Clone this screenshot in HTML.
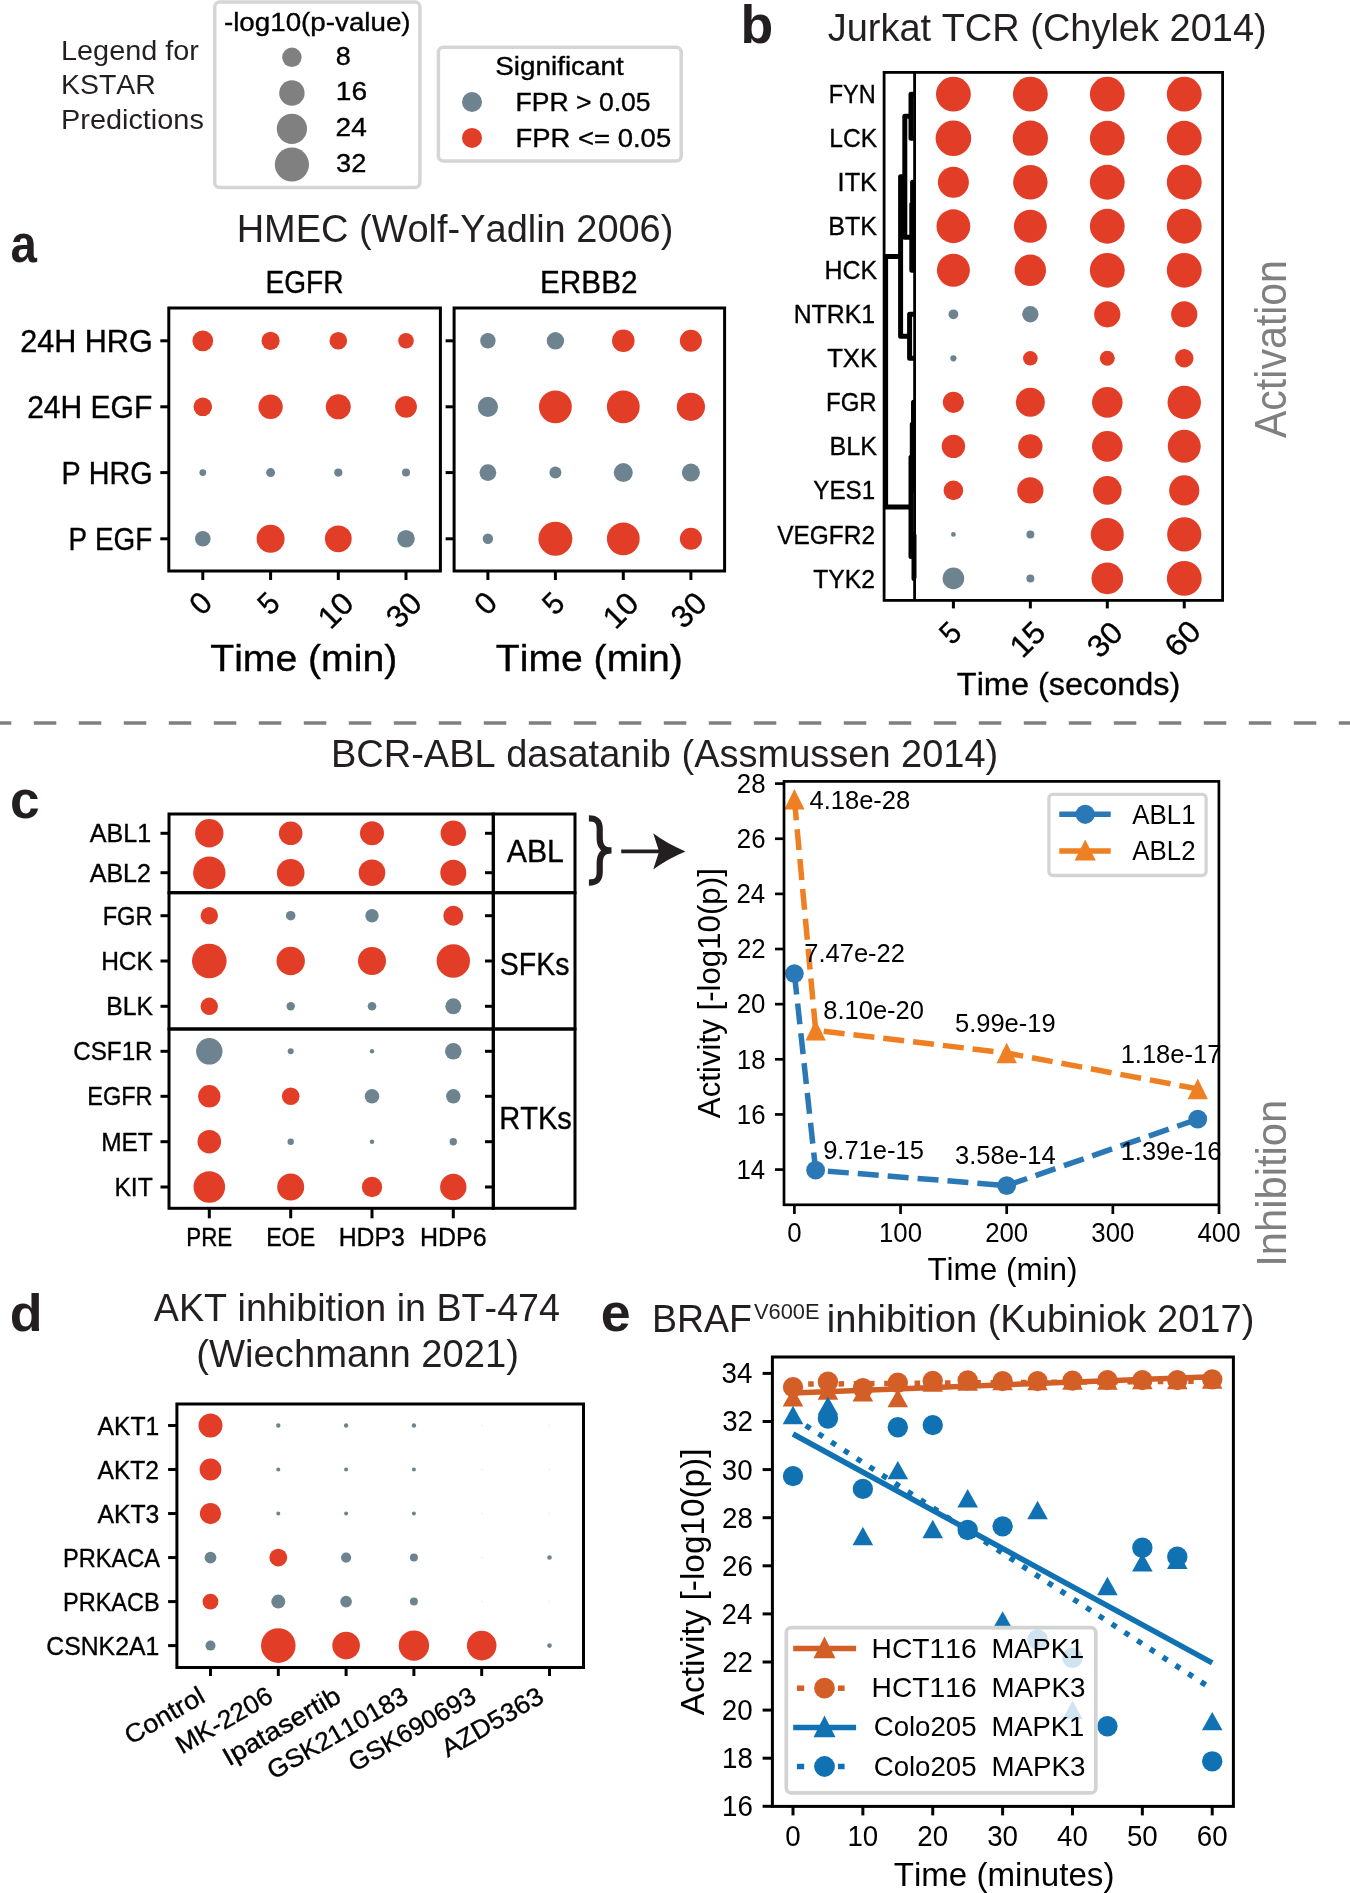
<!DOCTYPE html>
<html><head><meta charset="utf-8"><title>KSTAR figure</title><style>html,body{margin:0;padding:0;background:#fff;}svg{display:block;will-change:transform;}text{font-kerning:none;}.dv{stroke:#000;stroke-width:0.35px;}</style></head><body>
<svg width="1350" height="1893" viewBox="0 0 1350 1893" font-family="'Liberation Sans', sans-serif">
<rect x="0" y="0" width="1350" height="1893" fill="#fff"/>
<text x="61.03" y="60.00" font-size="28.49" textLength="137.95" lengthAdjust="spacingAndGlyphs" fill="#231f20">Legend for</text>
<text x="61.07" y="94.40" font-size="28.49" textLength="94.75" lengthAdjust="spacingAndGlyphs" fill="#231f20">KSTAR</text>
<text x="61.03" y="128.80" font-size="28.49" textLength="142.81" lengthAdjust="spacingAndGlyphs" fill="#231f20">Predictions</text>
<rect x="214.70" y="2.00" width="205.20" height="185.50" stroke="#d5d5d5" stroke-width="3.5" fill="#fff" rx="5" />
<text x="223.97" y="30.60" font-size="25.50" textLength="186.65" lengthAdjust="spacingAndGlyphs" class="dv">-log10(p-value)</text>
<circle cx="291.90" cy="57.30" r="9.70" fill="#808080"/>
<circle cx="291.90" cy="93.00" r="12.70" fill="#808080"/>
<circle cx="291.90" cy="128.80" r="15.10" fill="#808080"/>
<circle cx="291.90" cy="164.50" r="17.10" fill="#808080"/>
<text x="335.72" y="64.80" font-size="26.12" textLength="15.03" lengthAdjust="spacingAndGlyphs" class="dv">8</text>
<text x="335.81" y="100.30" font-size="26.12" textLength="31.26" lengthAdjust="spacingAndGlyphs" class="dv">16</text>
<text x="335.61" y="136.00" font-size="26.12" textLength="31.22" lengthAdjust="spacingAndGlyphs" class="dv">24</text>
<text x="336.07" y="171.70" font-size="26.12" textLength="30.20" lengthAdjust="spacingAndGlyphs" class="dv">32</text>
<rect x="438.40" y="47.30" width="242.80" height="113.70" stroke="#d5d5d5" stroke-width="3.5" fill="#fff" rx="5" />
<text x="495.23" y="75.20" font-size="26.00" textLength="128.57" lengthAdjust="spacingAndGlyphs" class="dv">Significant</text>
<text x="515.62" y="111.10" font-size="25.40" textLength="134.99" lengthAdjust="spacingAndGlyphs" class="dv">FPR &gt; 0.05</text>
<text x="515.55" y="146.70" font-size="25.40" textLength="155.60" lengthAdjust="spacingAndGlyphs" class="dv">FPR &lt;= 0.05</text>
<circle cx="472.00" cy="102.00" r="10.00" fill="#6d8390"/>
<circle cx="472.00" cy="137.90" r="10.00" fill="#e13d27"/>
<text x="10.61" y="261.50" font-size="52.70" textLength="26.39" lengthAdjust="spacingAndGlyphs" fill="#231f20" font-weight="bold">a</text>
<text x="236.69" y="242.00" font-size="39.20" textLength="436.67" lengthAdjust="spacingAndGlyphs" fill="#231f20">HMEC (Wolf-Yadlin 2006)</text>
<rect x="168.80" y="308.00" width="271.60" height="263.00" stroke="#000" stroke-width="3" fill="none" rx="0" />
<line x1="160.30" y1="340.80" x2="168.80" y2="340.80" stroke="#000" stroke-width="3" />
<circle cx="202.80" cy="340.80" r="10.40" fill="#e13d27"/>
<circle cx="270.60" cy="340.80" r="9.10" fill="#e13d27"/>
<circle cx="338.30" cy="340.80" r="8.80" fill="#e13d27"/>
<circle cx="406.00" cy="340.80" r="7.80" fill="#e13d27"/>
<line x1="160.30" y1="406.80" x2="168.80" y2="406.80" stroke="#000" stroke-width="3" />
<circle cx="202.80" cy="406.80" r="9.30" fill="#e13d27"/>
<circle cx="270.60" cy="406.80" r="12.20" fill="#e13d27"/>
<circle cx="338.30" cy="406.80" r="12.50" fill="#e13d27"/>
<circle cx="406.00" cy="406.80" r="10.90" fill="#e13d27"/>
<line x1="160.30" y1="472.60" x2="168.80" y2="472.60" stroke="#000" stroke-width="3" />
<circle cx="202.80" cy="472.60" r="3.40" fill="#6d8390"/>
<circle cx="270.60" cy="472.60" r="4.50" fill="#6d8390"/>
<circle cx="338.30" cy="472.60" r="4.10" fill="#6d8390"/>
<circle cx="406.00" cy="472.60" r="4.00" fill="#6d8390"/>
<line x1="160.30" y1="538.80" x2="168.80" y2="538.80" stroke="#000" stroke-width="3" />
<circle cx="202.80" cy="538.80" r="7.80" fill="#6d8390"/>
<circle cx="270.60" cy="538.80" r="14.00" fill="#e13d27"/>
<circle cx="338.30" cy="538.80" r="13.40" fill="#e13d27"/>
<circle cx="406.00" cy="538.80" r="8.80" fill="#6d8390"/>
<line x1="202.80" y1="571.00" x2="202.80" y2="580.00" stroke="#000" stroke-width="3" />
<g transform="translate(200.50,603.30) rotate(-45)"><text x="-8.56" y="10.64" font-size="30.95" textLength="17.12" lengthAdjust="spacingAndGlyphs" class="dv">0</text></g>
<line x1="270.60" y1="571.00" x2="270.60" y2="580.00" stroke="#000" stroke-width="3" />
<g transform="translate(268.30,603.30) rotate(-45)"><text x="-8.05" y="10.64" font-size="30.95" textLength="16.16" lengthAdjust="spacingAndGlyphs" class="dv">5</text></g>
<line x1="338.30" y1="571.00" x2="338.30" y2="580.00" stroke="#000" stroke-width="3" />
<g transform="translate(336.00,609.87) rotate(-45)"><text x="-18.45" y="10.64" font-size="30.95" textLength="35.71" lengthAdjust="spacingAndGlyphs" class="dv">10</text></g>
<line x1="406.00" y1="571.00" x2="406.00" y2="580.00" stroke="#000" stroke-width="3" />
<g transform="translate(403.70,609.87) rotate(-45)"><text x="-17.71" y="10.64" font-size="30.95" textLength="35.45" lengthAdjust="spacingAndGlyphs" class="dv">30</text></g>
<rect x="454.10" y="308.00" width="270.50" height="263.00" stroke="#000" stroke-width="3" fill="none" rx="0" />
<line x1="445.60" y1="340.80" x2="454.10" y2="340.80" stroke="#000" stroke-width="3" />
<circle cx="487.90" cy="340.80" r="7.70" fill="#6d8390"/>
<circle cx="555.40" cy="340.80" r="8.70" fill="#6d8390"/>
<circle cx="623.30" cy="340.80" r="11.30" fill="#e13d27"/>
<circle cx="690.90" cy="340.80" r="11.00" fill="#e13d27"/>
<line x1="445.60" y1="406.80" x2="454.10" y2="406.80" stroke="#000" stroke-width="3" />
<circle cx="487.90" cy="406.80" r="10.10" fill="#6d8390"/>
<circle cx="555.40" cy="406.80" r="16.40" fill="#e13d27"/>
<circle cx="623.30" cy="406.80" r="16.40" fill="#e13d27"/>
<circle cx="690.90" cy="406.80" r="14.10" fill="#e13d27"/>
<line x1="445.60" y1="472.60" x2="454.10" y2="472.60" stroke="#000" stroke-width="3" />
<circle cx="487.90" cy="472.60" r="8.40" fill="#6d8390"/>
<circle cx="555.40" cy="472.60" r="6.00" fill="#6d8390"/>
<circle cx="623.30" cy="472.60" r="9.50" fill="#6d8390"/>
<circle cx="690.90" cy="472.60" r="9.00" fill="#6d8390"/>
<line x1="445.60" y1="538.80" x2="454.10" y2="538.80" stroke="#000" stroke-width="3" />
<circle cx="487.90" cy="538.80" r="5.20" fill="#6d8390"/>
<circle cx="555.40" cy="538.80" r="17.00" fill="#e13d27"/>
<circle cx="623.30" cy="538.80" r="16.40" fill="#e13d27"/>
<circle cx="690.90" cy="538.80" r="11.00" fill="#e13d27"/>
<line x1="487.90" y1="571.00" x2="487.90" y2="580.00" stroke="#000" stroke-width="3" />
<g transform="translate(485.60,603.30) rotate(-45)"><text x="-8.56" y="10.64" font-size="30.95" textLength="17.12" lengthAdjust="spacingAndGlyphs" class="dv">0</text></g>
<line x1="555.40" y1="571.00" x2="555.40" y2="580.00" stroke="#000" stroke-width="3" />
<g transform="translate(553.10,603.30) rotate(-45)"><text x="-8.05" y="10.64" font-size="30.95" textLength="16.16" lengthAdjust="spacingAndGlyphs" class="dv">5</text></g>
<line x1="623.30" y1="571.00" x2="623.30" y2="580.00" stroke="#000" stroke-width="3" />
<g transform="translate(621.00,609.87) rotate(-45)"><text x="-18.45" y="10.64" font-size="30.95" textLength="35.71" lengthAdjust="spacingAndGlyphs" class="dv">10</text></g>
<line x1="690.90" y1="571.00" x2="690.90" y2="580.00" stroke="#000" stroke-width="3" />
<g transform="translate(688.60,609.87) rotate(-45)"><text x="-17.71" y="10.64" font-size="30.95" textLength="35.45" lengthAdjust="spacingAndGlyphs" class="dv">30</text></g>
<text x="265.50" y="293.00" font-size="30.95" textLength="78.01" lengthAdjust="spacingAndGlyphs" class="dv">EGFR</text>
<text x="540.06" y="293.00" font-size="30.95" textLength="97.43" lengthAdjust="spacingAndGlyphs" class="dv">ERBB2</text>
<text x="20.13" y="352.10" font-size="30.95" textLength="132.56" lengthAdjust="spacingAndGlyphs" class="dv">24H HRG</text>
<text x="27.16" y="418.10" font-size="30.95" textLength="125.14" lengthAdjust="spacingAndGlyphs" class="dv">24H EGF</text>
<text x="61.54" y="483.90" font-size="30.95" textLength="91.01" lengthAdjust="spacingAndGlyphs" class="dv">P HRG</text>
<text x="68.61" y="550.10" font-size="30.95" textLength="83.60" lengthAdjust="spacingAndGlyphs" class="dv">P EGF</text>
<text x="210.22" y="670.70" font-size="36.25" textLength="187.01" lengthAdjust="spacingAndGlyphs" class="dv">Time (min)</text>
<text x="495.82" y="670.70" font-size="36.25" textLength="186.90" lengthAdjust="spacingAndGlyphs" class="dv">Time (min)</text>
<text x="740.57" y="43.00" font-size="52.80" textLength="32.73" lengthAdjust="spacingAndGlyphs" fill="#231f20" font-weight="bold">b</text>
<text x="827.71" y="40.80" font-size="39.20" textLength="438.95" lengthAdjust="spacingAndGlyphs" fill="#231f20">Jurkat TCR (Chylek 2014)</text>
<circle cx="953.40" cy="94.20" r="17.40" fill="#e13d27"/>
<circle cx="1030.35" cy="94.20" r="17.40" fill="#e13d27"/>
<circle cx="1107.30" cy="94.20" r="17.40" fill="#e13d27"/>
<circle cx="1184.25" cy="94.20" r="17.40" fill="#e13d27"/>
<circle cx="953.40" cy="138.22" r="17.80" fill="#e13d27"/>
<circle cx="1030.35" cy="138.22" r="17.60" fill="#e13d27"/>
<circle cx="1107.30" cy="138.22" r="17.40" fill="#e13d27"/>
<circle cx="1184.25" cy="138.22" r="17.40" fill="#e13d27"/>
<circle cx="953.40" cy="182.24" r="15.50" fill="#e13d27"/>
<circle cx="1030.35" cy="182.24" r="17.20" fill="#e13d27"/>
<circle cx="1107.30" cy="182.24" r="17.40" fill="#e13d27"/>
<circle cx="1184.25" cy="182.24" r="17.40" fill="#e13d27"/>
<circle cx="953.40" cy="226.26" r="16.90" fill="#e13d27"/>
<circle cx="1030.35" cy="226.26" r="16.50" fill="#e13d27"/>
<circle cx="1107.30" cy="226.26" r="17.40" fill="#e13d27"/>
<circle cx="1184.25" cy="226.26" r="17.40" fill="#e13d27"/>
<circle cx="953.40" cy="270.28" r="16.50" fill="#e13d27"/>
<circle cx="1030.35" cy="270.28" r="15.70" fill="#e13d27"/>
<circle cx="1107.30" cy="270.28" r="17.40" fill="#e13d27"/>
<circle cx="1184.25" cy="270.28" r="17.40" fill="#e13d27"/>
<circle cx="953.40" cy="314.30" r="4.90" fill="#6d8390"/>
<circle cx="1030.35" cy="314.30" r="8.20" fill="#6d8390"/>
<circle cx="1107.30" cy="314.30" r="13.10" fill="#e13d27"/>
<circle cx="1184.25" cy="314.30" r="13.10" fill="#e13d27"/>
<circle cx="953.40" cy="358.32" r="3.10" fill="#6d8390"/>
<circle cx="1030.35" cy="358.32" r="7.30" fill="#e13d27"/>
<circle cx="1107.30" cy="358.32" r="7.50" fill="#e13d27"/>
<circle cx="1184.25" cy="358.32" r="9.20" fill="#e13d27"/>
<circle cx="953.40" cy="402.34" r="10.60" fill="#e13d27"/>
<circle cx="1030.35" cy="402.34" r="14.50" fill="#e13d27"/>
<circle cx="1107.30" cy="402.34" r="15.30" fill="#e13d27"/>
<circle cx="1184.25" cy="402.34" r="16.70" fill="#e13d27"/>
<circle cx="953.40" cy="446.36" r="11.70" fill="#e13d27"/>
<circle cx="1030.35" cy="446.36" r="12.20" fill="#e13d27"/>
<circle cx="1107.30" cy="446.36" r="15.30" fill="#e13d27"/>
<circle cx="1184.25" cy="446.36" r="16.50" fill="#e13d27"/>
<circle cx="953.40" cy="490.38" r="9.80" fill="#e13d27"/>
<circle cx="1030.35" cy="490.38" r="13.10" fill="#e13d27"/>
<circle cx="1107.30" cy="490.38" r="14.30" fill="#e13d27"/>
<circle cx="1184.25" cy="490.38" r="15.10" fill="#e13d27"/>
<circle cx="953.40" cy="534.40" r="2.40" fill="#6d8390"/>
<circle cx="1030.35" cy="534.40" r="4.00" fill="#6d8390"/>
<circle cx="1107.30" cy="534.40" r="16.50" fill="#e13d27"/>
<circle cx="1184.25" cy="534.40" r="17.10" fill="#e13d27"/>
<circle cx="953.40" cy="578.42" r="10.80" fill="#6d8390"/>
<circle cx="1030.35" cy="578.42" r="4.00" fill="#6d8390"/>
<circle cx="1107.30" cy="578.42" r="15.80" fill="#e13d27"/>
<circle cx="1184.25" cy="578.42" r="17.40" fill="#e13d27"/>
<text x="828.78" y="103.30" font-size="26.29" textLength="46.94" lengthAdjust="spacingAndGlyphs" class="dv">FYN</text>
<text x="829.26" y="147.32" font-size="26.29" textLength="47.77" lengthAdjust="spacingAndGlyphs" class="dv">LCK</text>
<text x="837.60" y="191.34" font-size="26.29" textLength="39.44" lengthAdjust="spacingAndGlyphs" class="dv">ITK</text>
<text x="828.18" y="235.36" font-size="26.29" textLength="48.85" lengthAdjust="spacingAndGlyphs" class="dv">BTK</text>
<text x="824.40" y="279.38" font-size="26.29" textLength="52.64" lengthAdjust="spacingAndGlyphs" class="dv">HCK</text>
<text x="793.66" y="323.40" font-size="26.29" textLength="81.50" lengthAdjust="spacingAndGlyphs" class="dv">NTRK1</text>
<text x="827.18" y="367.42" font-size="26.29" textLength="49.86" lengthAdjust="spacingAndGlyphs" class="dv">TXK</text>
<text x="825.99" y="411.44" font-size="26.29" textLength="50.65" lengthAdjust="spacingAndGlyphs" class="dv">FGR</text>
<text x="829.51" y="455.46" font-size="26.29" textLength="47.53" lengthAdjust="spacingAndGlyphs" class="dv">BLK</text>
<text x="813.32" y="499.48" font-size="26.29" textLength="61.81" lengthAdjust="spacingAndGlyphs" class="dv">YES1</text>
<text x="777.19" y="543.50" font-size="26.29" textLength="97.79" lengthAdjust="spacingAndGlyphs" class="dv">VEGFR2</text>
<text x="813.27" y="587.52" font-size="26.29" textLength="61.72" lengthAdjust="spacingAndGlyphs" class="dv">TYK2</text>
<line x1="953.40" y1="600.40" x2="953.40" y2="608.40" stroke="#000" stroke-width="3" />
<g transform="translate(950.20,632.80) rotate(-45)"><text x="-8.05" y="10.64" font-size="30.95" textLength="16.16" lengthAdjust="spacingAndGlyphs" class="dv">5</text></g>
<line x1="1030.35" y1="600.40" x2="1030.35" y2="608.40" stroke="#000" stroke-width="3" />
<g transform="translate(1027.80,638.90) rotate(-45)"><text x="-18.10" y="10.64" font-size="30.95" textLength="35.13" lengthAdjust="spacingAndGlyphs" class="dv">15</text></g>
<line x1="1107.30" y1="600.40" x2="1107.30" y2="608.40" stroke="#000" stroke-width="3" />
<g transform="translate(1104.80,639.50) rotate(-45)"><text x="-17.71" y="10.64" font-size="30.95" textLength="35.45" lengthAdjust="spacingAndGlyphs" class="dv">30</text></g>
<line x1="1184.25" y1="600.40" x2="1184.25" y2="608.40" stroke="#000" stroke-width="3" />
<g transform="translate(1182.60,638.40) rotate(-45)"><text x="-18.24" y="10.64" font-size="30.95" textLength="36.09" lengthAdjust="spacingAndGlyphs" class="dv">60</text></g>
<text x="956.87" y="695.20" font-size="31.50" textLength="223.44" lengthAdjust="spacingAndGlyphs" class="dv">Time (seconds)</text>
<g transform="translate(1286,438) rotate(-90)"><text x="-0.08" y="0.00" font-size="43.90" textLength="178.05" lengthAdjust="spacingAndGlyphs" fill="#808080">Activation</text></g>
<path d="M914.60,94.20 H911.00 V138.22 H914.60 M914.60,182.24 H912.60 V226.26 H914.60 M912.60,204.25 H911.80 V270.28 H914.60 M911.0,116.21 H904.8 V237.27 H911.8 M914.60,314.30 H909.60 V358.32 H914.60 M904.8,176.74 H900.6 V336.31 H909.6 M914.60,402.34 H913.50 V446.36 H914.60 M913.5,424.35 H912.3 V490.38 H914.6 M914.60,534.40 H914.00 V578.42 H914.60 M912.3,457.37 H911.0 V556.41 H914.0 M900.6,256.52 H885.6 V506.89 H911.0" fill="none" stroke="#000" stroke-width="5" stroke-linejoin="round"/>
<rect x="884.10" y="72.40" width="338.50" height="528.00" stroke="#000" stroke-width="2.8" fill="none" rx="0" />
<line x1="914.60" y1="72.40" x2="914.60" y2="600.40" stroke="#000" stroke-width="2.8" />
<line x1="0" y1="723.1" x2="1350" y2="723.1" stroke="#808080" stroke-width="3.5" stroke-dasharray="22.5 22.5" stroke-dashoffset="11.2"/>
<text x="9.92" y="817.70" font-size="53.10" textLength="29.64" lengthAdjust="spacingAndGlyphs" fill="#231f20" font-weight="bold">c</text>
<text x="330.98" y="766.80" font-size="39.30" textLength="667.27" lengthAdjust="spacingAndGlyphs" fill="#231f20">BCR-ABL dasatanib (Assmussen 2014)</text>
<circle cx="209.30" cy="833.30" r="14.20" fill="#e13d27"/>
<circle cx="290.70" cy="833.30" r="11.80" fill="#e13d27"/>
<circle cx="372.00" cy="833.30" r="12.00" fill="#e13d27"/>
<circle cx="453.30" cy="833.30" r="12.70" fill="#e13d27"/>
<line x1="160.50" y1="833.30" x2="169.00" y2="833.30" stroke="#000" stroke-width="3" />
<line x1="485.00" y1="833.30" x2="493.30" y2="833.30" stroke="#000" stroke-width="3" />
<circle cx="209.30" cy="872.70" r="16.20" fill="#e13d27"/>
<circle cx="290.70" cy="872.70" r="13.80" fill="#e13d27"/>
<circle cx="372.00" cy="872.70" r="13.30" fill="#e13d27"/>
<circle cx="453.30" cy="872.70" r="13.00" fill="#e13d27"/>
<line x1="160.50" y1="872.70" x2="169.00" y2="872.70" stroke="#000" stroke-width="3" />
<line x1="485.00" y1="872.70" x2="493.30" y2="872.70" stroke="#000" stroke-width="3" />
<circle cx="209.30" cy="915.70" r="8.70" fill="#e13d27"/>
<circle cx="290.70" cy="915.70" r="4.80" fill="#6d8390"/>
<circle cx="372.00" cy="915.70" r="6.70" fill="#6d8390"/>
<circle cx="453.30" cy="915.70" r="10.00" fill="#e13d27"/>
<line x1="160.50" y1="915.70" x2="169.00" y2="915.70" stroke="#000" stroke-width="3" />
<line x1="485.00" y1="915.70" x2="493.30" y2="915.70" stroke="#000" stroke-width="3" />
<circle cx="209.30" cy="961.00" r="17.30" fill="#e13d27"/>
<circle cx="290.70" cy="961.00" r="14.20" fill="#e13d27"/>
<circle cx="372.00" cy="961.00" r="14.00" fill="#e13d27"/>
<circle cx="453.30" cy="961.00" r="16.70" fill="#e13d27"/>
<line x1="160.50" y1="961.00" x2="169.00" y2="961.00" stroke="#000" stroke-width="3" />
<line x1="485.00" y1="961.00" x2="493.30" y2="961.00" stroke="#000" stroke-width="3" />
<circle cx="209.30" cy="1006.30" r="8.70" fill="#e13d27"/>
<circle cx="290.70" cy="1006.30" r="4.20" fill="#6d8390"/>
<circle cx="372.00" cy="1006.30" r="4.30" fill="#6d8390"/>
<circle cx="453.30" cy="1006.30" r="8.00" fill="#6d8390"/>
<line x1="160.50" y1="1006.30" x2="169.00" y2="1006.30" stroke="#000" stroke-width="3" />
<line x1="485.00" y1="1006.30" x2="493.30" y2="1006.30" stroke="#000" stroke-width="3" />
<circle cx="209.30" cy="1051.30" r="13.20" fill="#6d8390"/>
<circle cx="290.70" cy="1051.30" r="3.00" fill="#6d8390"/>
<circle cx="372.00" cy="1051.30" r="2.20" fill="#6d8390"/>
<circle cx="453.30" cy="1051.30" r="8.30" fill="#6d8390"/>
<line x1="160.50" y1="1051.30" x2="169.00" y2="1051.30" stroke="#000" stroke-width="3" />
<line x1="485.00" y1="1051.30" x2="493.30" y2="1051.30" stroke="#000" stroke-width="3" />
<circle cx="209.30" cy="1096.30" r="11.20" fill="#e13d27"/>
<circle cx="290.70" cy="1096.30" r="8.80" fill="#e13d27"/>
<circle cx="372.00" cy="1096.30" r="7.20" fill="#6d8390"/>
<circle cx="453.30" cy="1096.30" r="7.20" fill="#6d8390"/>
<line x1="160.50" y1="1096.30" x2="169.00" y2="1096.30" stroke="#000" stroke-width="3" />
<line x1="485.00" y1="1096.30" x2="493.30" y2="1096.30" stroke="#000" stroke-width="3" />
<circle cx="209.30" cy="1141.70" r="11.80" fill="#e13d27"/>
<circle cx="290.70" cy="1141.70" r="3.20" fill="#6d8390"/>
<circle cx="372.00" cy="1141.70" r="2.20" fill="#6d8390"/>
<circle cx="453.30" cy="1141.70" r="3.70" fill="#6d8390"/>
<line x1="160.50" y1="1141.70" x2="169.00" y2="1141.70" stroke="#000" stroke-width="3" />
<line x1="485.00" y1="1141.70" x2="493.30" y2="1141.70" stroke="#000" stroke-width="3" />
<circle cx="209.30" cy="1187.00" r="15.80" fill="#e13d27"/>
<circle cx="290.70" cy="1187.00" r="13.50" fill="#e13d27"/>
<circle cx="372.00" cy="1187.00" r="10.20" fill="#e13d27"/>
<circle cx="453.30" cy="1187.00" r="13.20" fill="#e13d27"/>
<line x1="160.50" y1="1187.00" x2="169.00" y2="1187.00" stroke="#000" stroke-width="3" />
<line x1="485.00" y1="1187.00" x2="493.30" y2="1187.00" stroke="#000" stroke-width="3" />
<rect x="169.00" y="814.00" width="324.30" height="78.70" stroke="#000" stroke-width="3" fill="none" rx="0" />
<rect x="493.30" y="814.00" width="81.70" height="78.70" stroke="#000" stroke-width="3" fill="none" rx="0" />
<rect x="169.00" y="892.70" width="324.30" height="136.30" stroke="#000" stroke-width="3" fill="none" rx="0" />
<rect x="493.30" y="892.70" width="81.70" height="136.30" stroke="#000" stroke-width="3" fill="none" rx="0" />
<rect x="169.00" y="1029.00" width="324.30" height="179.30" stroke="#000" stroke-width="3" fill="none" rx="0" />
<rect x="493.30" y="1029.00" width="81.70" height="179.30" stroke="#000" stroke-width="3" fill="none" rx="0" />
<text x="89.74" y="842.20" font-size="25.86" textLength="61.38" lengthAdjust="spacingAndGlyphs" class="dv">ABL1</text>
<text x="89.74" y="881.60" font-size="25.86" textLength="61.22" lengthAdjust="spacingAndGlyphs" class="dv">ABL2</text>
<text x="102.71" y="924.60" font-size="25.86" textLength="49.83" lengthAdjust="spacingAndGlyphs" class="dv">FGR</text>
<text x="101.15" y="969.90" font-size="25.86" textLength="51.79" lengthAdjust="spacingAndGlyphs" class="dv">HCK</text>
<text x="106.18" y="1015.20" font-size="25.86" textLength="46.76" lengthAdjust="spacingAndGlyphs" class="dv">BLK</text>
<text x="73.26" y="1060.20" font-size="25.86" textLength="79.32" lengthAdjust="spacingAndGlyphs" class="dv">CSF1R</text>
<text x="87.31" y="1105.20" font-size="25.86" textLength="65.23" lengthAdjust="spacingAndGlyphs" class="dv">EGFR</text>
<text x="101.17" y="1150.60" font-size="25.86" textLength="51.62" lengthAdjust="spacingAndGlyphs" class="dv">MET</text>
<text x="114.42" y="1195.90" font-size="25.86" textLength="38.37" lengthAdjust="spacingAndGlyphs" class="dv">KIT</text>
<line x1="209.30" y1="1208.30" x2="209.30" y2="1218.30" stroke="#000" stroke-width="3" />
<text x="186.32" y="1245.50" font-size="25.86" textLength="45.92" lengthAdjust="spacingAndGlyphs" class="dv">PRE</text>
<line x1="290.70" y1="1208.30" x2="290.70" y2="1218.30" stroke="#000" stroke-width="3" />
<text x="266.17" y="1245.50" font-size="25.86" textLength="48.98" lengthAdjust="spacingAndGlyphs" class="dv">EOE</text>
<line x1="372.00" y1="1208.30" x2="372.00" y2="1218.30" stroke="#000" stroke-width="3" />
<text x="338.67" y="1245.50" font-size="25.86" textLength="66.15" lengthAdjust="spacingAndGlyphs" class="dv">HDP3</text>
<line x1="453.30" y1="1208.30" x2="453.30" y2="1218.30" stroke="#000" stroke-width="3" />
<text x="419.96" y="1245.50" font-size="25.86" textLength="66.59" lengthAdjust="spacingAndGlyphs" class="dv">HDP6</text>
<text x="506.74" y="861.60" font-size="31.20" textLength="57.16" lengthAdjust="spacingAndGlyphs" class="dv">ABL</text>
<text x="499.80" y="975.30" font-size="31.20" textLength="69.73" lengthAdjust="spacingAndGlyphs" class="dv">SFKs</text>
<text x="499.22" y="1128.60" font-size="31.20" textLength="72.63" lengthAdjust="spacingAndGlyphs" class="dv">RTKs</text>
<path d="M588.9,818.4 C596.5,818.4 599.7,821 599.7,829 L599.7,838 C599.7,846 603,850.4 611.5,850.4 M611.5,850.4 C603,850.4 599.7,855 599.7,863 L599.7,872 C599.7,880 596.5,882.6 588.9,882.6" fill="none" stroke="#231f20" stroke-width="6.2"/>
<line x1="621.20" y1="851.40" x2="662.00" y2="851.40" stroke="#231f20" stroke-width="3.6" />
<path d="M685.5,851.4 Q667,843.8 653.2,833.3 L659.1,851.4 L653.2,869.6 Q667,859.0 685.5,851.4 Z" fill="#231f20"/>
<line x1="775.00" y1="1169.58" x2="784.00" y2="1169.58" stroke="#000" stroke-width="2.7" />
<text x="736.46" y="1178.78" font-size="26.83" textLength="28.70" lengthAdjust="spacingAndGlyphs">14</text>
<line x1="775.00" y1="1114.44" x2="784.00" y2="1114.44" stroke="#000" stroke-width="2.7" />
<text x="736.84" y="1123.64" font-size="26.83" textLength="28.70" lengthAdjust="spacingAndGlyphs">16</text>
<line x1="775.00" y1="1059.30" x2="784.00" y2="1059.30" stroke="#000" stroke-width="2.7" />
<text x="736.82" y="1068.50" font-size="26.83" textLength="28.70" lengthAdjust="spacingAndGlyphs">18</text>
<line x1="775.00" y1="1004.16" x2="784.00" y2="1004.16" stroke="#000" stroke-width="2.7" />
<text x="736.71" y="1013.36" font-size="26.83" textLength="28.70" lengthAdjust="spacingAndGlyphs">20</text>
<line x1="775.00" y1="949.02" x2="784.00" y2="949.02" stroke="#000" stroke-width="2.7" />
<text x="737.00" y="958.22" font-size="26.83" textLength="28.70" lengthAdjust="spacingAndGlyphs">22</text>
<line x1="775.00" y1="893.88" x2="784.00" y2="893.88" stroke="#000" stroke-width="2.7" />
<text x="736.46" y="903.08" font-size="26.83" textLength="28.70" lengthAdjust="spacingAndGlyphs">24</text>
<line x1="775.00" y1="838.74" x2="784.00" y2="838.74" stroke="#000" stroke-width="2.7" />
<text x="736.84" y="847.94" font-size="26.83" textLength="28.70" lengthAdjust="spacingAndGlyphs">26</text>
<line x1="775.00" y1="783.60" x2="784.00" y2="783.60" stroke="#000" stroke-width="2.7" />
<text x="736.82" y="792.80" font-size="26.83" textLength="28.70" lengthAdjust="spacingAndGlyphs">28</text>
<line x1="794.40" y1="1204.80" x2="794.40" y2="1214.00" stroke="#000" stroke-width="2.7" />
<text x="787.23" y="1242.00" font-size="26.83" textLength="14.35" lengthAdjust="spacingAndGlyphs">0</text>
<line x1="900.55" y1="1204.80" x2="900.55" y2="1214.00" stroke="#000" stroke-width="2.7" />
<text x="879.03" y="1242.00" font-size="26.83" textLength="43.05" lengthAdjust="spacingAndGlyphs">100</text>
<line x1="1006.70" y1="1204.80" x2="1006.70" y2="1214.00" stroke="#000" stroke-width="2.7" />
<text x="985.18" y="1242.00" font-size="26.83" textLength="43.05" lengthAdjust="spacingAndGlyphs">200</text>
<line x1="1112.85" y1="1204.80" x2="1112.85" y2="1214.00" stroke="#000" stroke-width="2.7" />
<text x="1091.33" y="1242.00" font-size="26.83" textLength="43.05" lengthAdjust="spacingAndGlyphs">300</text>
<line x1="1219.00" y1="1204.80" x2="1219.00" y2="1214.00" stroke="#000" stroke-width="2.7" />
<text x="1197.48" y="1242.00" font-size="26.83" textLength="43.05" lengthAdjust="spacingAndGlyphs">400</text>
<g transform="translate(719.6,1118.1) rotate(-90)"><text x="-0.06" y="0.00" font-size="32.27" textLength="249.99" lengthAdjust="spacingAndGlyphs">Activity [-log10(p)]</text></g>
<text x="927.39" y="1279.90" font-size="31.69" textLength="150.16" lengthAdjust="spacingAndGlyphs">Time (min)</text>
<polyline points="794.40,973.60 815.63,1170.20 1006.70,1185.60 1197.77,1119.10" fill="none" stroke="#2a78b6" stroke-width="5.5" stroke-dasharray="21 9"/>
<circle cx="794.40" cy="973.60" r="9.40" fill="#2a78b6"/>
<circle cx="815.63" cy="1170.20" r="9.40" fill="#2a78b6"/>
<circle cx="1006.70" cy="1185.60" r="9.40" fill="#2a78b6"/>
<circle cx="1197.77" cy="1119.10" r="9.40" fill="#2a78b6"/>
<polyline points="794.40,799.30 815.63,1030.20 1006.70,1053.00 1197.77,1088.90" fill="none" stroke="#ee7f22" stroke-width="5.5" stroke-dasharray="21 9"/>
<path d="M794.40,789.00 L804.60,809.60 L784.20,809.60 Z" fill="#ee7f22"/>
<path d="M815.63,1019.90 L825.83,1040.50 L805.43,1040.50 Z" fill="#ee7f22"/>
<path d="M1006.70,1042.70 L1016.90,1063.30 L996.50,1063.30 Z" fill="#ee7f22"/>
<path d="M1197.77,1078.60 L1207.97,1099.20 L1187.57,1099.20 Z" fill="#ee7f22"/>
<rect x="784.00" y="781.40" width="434.90" height="423.40" stroke="#000" stroke-width="2.7" fill="none" rx="0" />
<text x="809.51" y="808.60" font-size="26.52" textLength="100.67" lengthAdjust="spacingAndGlyphs">4.18e-28</text>
<text x="804.29" y="962.40" font-size="26.52" textLength="100.67" lengthAdjust="spacingAndGlyphs">7.47e-22</text>
<text x="823.29" y="1019.00" font-size="26.52" textLength="100.67" lengthAdjust="spacingAndGlyphs">8.10e-20</text>
<text x="823.20" y="1159.00" font-size="26.52" textLength="100.67" lengthAdjust="spacingAndGlyphs">9.71e-15</text>
<text x="954.98" y="1032.00" font-size="26.52" textLength="100.67" lengthAdjust="spacingAndGlyphs">5.99e-19</text>
<text x="955.03" y="1164.40" font-size="26.52" textLength="100.67" lengthAdjust="spacingAndGlyphs">3.58e-14</text>
<text x="1120.66" y="1063.00" font-size="26.52" textLength="100.67" lengthAdjust="spacingAndGlyphs">1.18e-17</text>
<text x="1120.66" y="1160.20" font-size="26.52" textLength="100.67" lengthAdjust="spacingAndGlyphs">1.39e-16</text>
<rect x="1048.90" y="794.30" width="157.20" height="81.20" stroke="#d4d4d4" stroke-width="3.3" fill="#fff" rx="4" />
<line x1="1059.30" y1="814.30" x2="1110.70" y2="814.30" stroke="#2a78b6" stroke-width="5.5" />
<circle cx="1085.20" cy="814.30" r="9.60" fill="#2a78b6"/>
<line x1="1059.30" y1="850.90" x2="1110.70" y2="850.90" stroke="#ee7f22" stroke-width="5.5" />
<path d="M1085.20,839.60 L1095.80,860.60 L1074.60,860.60 Z" fill="#ee7f22"/>
<text x="1132.35" y="823.50" font-size="26.89" textLength="63.25" lengthAdjust="spacingAndGlyphs">ABL1</text>
<text x="1132.35" y="860.00" font-size="26.89" textLength="63.25" lengthAdjust="spacingAndGlyphs">ABL2</text>
<g transform="translate(1285.6,1263) rotate(-90)"><text x="-3.85" y="0.00" font-size="43.17" textLength="167.17" lengthAdjust="spacingAndGlyphs" fill="#808080">Inhibition</text></g>
<text x="9.79" y="1330.80" font-size="52.00" textLength="32.85" lengthAdjust="spacingAndGlyphs" fill="#231f20" font-weight="bold">d</text>
<text x="153.83" y="1321.00" font-size="39.00" textLength="406.18" lengthAdjust="spacingAndGlyphs" fill="#231f20">AKT inhibition in BT-474</text>
<text x="196.33" y="1366.90" font-size="39.00" textLength="322.74" lengthAdjust="spacingAndGlyphs" fill="#231f20">(Wiechmann 2021)</text>
<circle cx="210.50" cy="1425.50" r="12.00" fill="#e13d27"/>
<circle cx="278.30" cy="1425.50" r="2.20" fill="#6d8390"/>
<circle cx="346.10" cy="1425.50" r="2.20" fill="#6d8390"/>
<circle cx="413.90" cy="1425.50" r="2.20" fill="#6d8390"/>
<circle cx="481.70" cy="1425.50" r="1.00" fill="#eef0f1"/>
<circle cx="549.50" cy="1425.50" r="1.00" fill="#eef0f1"/>
<line x1="168.10" y1="1425.50" x2="176.90" y2="1425.50" stroke="#000" stroke-width="3" />
<circle cx="210.50" cy="1469.52" r="10.90" fill="#e13d27"/>
<circle cx="278.30" cy="1469.52" r="2.00" fill="#6d8390"/>
<circle cx="346.10" cy="1469.52" r="2.00" fill="#6d8390"/>
<circle cx="413.90" cy="1469.52" r="2.00" fill="#6d8390"/>
<circle cx="481.70" cy="1469.52" r="1.00" fill="#eef0f1"/>
<circle cx="549.50" cy="1469.52" r="1.00" fill="#eef0f1"/>
<line x1="168.10" y1="1469.52" x2="176.90" y2="1469.52" stroke="#000" stroke-width="3" />
<circle cx="210.50" cy="1513.54" r="10.60" fill="#e13d27"/>
<circle cx="278.30" cy="1513.54" r="2.00" fill="#6d8390"/>
<circle cx="346.10" cy="1513.54" r="2.00" fill="#6d8390"/>
<circle cx="413.90" cy="1513.54" r="2.00" fill="#6d8390"/>
<circle cx="481.70" cy="1513.54" r="1.00" fill="#eef0f1"/>
<circle cx="549.50" cy="1513.54" r="1.00" fill="#eef0f1"/>
<line x1="168.10" y1="1513.54" x2="176.90" y2="1513.54" stroke="#000" stroke-width="3" />
<circle cx="210.50" cy="1557.56" r="5.90" fill="#6d8390"/>
<circle cx="278.30" cy="1557.56" r="8.90" fill="#e13d27"/>
<circle cx="346.10" cy="1557.56" r="5.10" fill="#6d8390"/>
<circle cx="413.90" cy="1557.56" r="4.00" fill="#6d8390"/>
<circle cx="481.70" cy="1557.56" r="1.00" fill="#eef0f1"/>
<circle cx="549.50" cy="1557.56" r="2.30" fill="#6d8390"/>
<line x1="168.10" y1="1557.56" x2="176.90" y2="1557.56" stroke="#000" stroke-width="3" />
<circle cx="210.50" cy="1601.58" r="7.90" fill="#e13d27"/>
<circle cx="278.30" cy="1601.58" r="7.00" fill="#6d8390"/>
<circle cx="346.10" cy="1601.58" r="5.80" fill="#6d8390"/>
<circle cx="413.90" cy="1601.58" r="4.00" fill="#6d8390"/>
<circle cx="481.70" cy="1601.58" r="1.00" fill="#eef0f1"/>
<circle cx="549.50" cy="1601.58" r="1.00" fill="#eef0f1"/>
<line x1="168.10" y1="1601.58" x2="176.90" y2="1601.58" stroke="#000" stroke-width="3" />
<circle cx="210.50" cy="1645.60" r="5.00" fill="#6d8390"/>
<circle cx="278.30" cy="1645.60" r="17.30" fill="#e13d27"/>
<circle cx="346.10" cy="1645.60" r="13.80" fill="#e13d27"/>
<circle cx="413.90" cy="1645.60" r="15.20" fill="#e13d27"/>
<circle cx="481.70" cy="1645.60" r="14.80" fill="#e13d27"/>
<circle cx="549.50" cy="1645.60" r="2.30" fill="#6d8390"/>
<line x1="168.10" y1="1645.60" x2="176.90" y2="1645.60" stroke="#000" stroke-width="3" />
<rect x="176.90" y="1404.00" width="406.60" height="263.50" stroke="#000" stroke-width="3" fill="none" rx="0" />
<text x="97.52" y="1435.20" font-size="25.76" textLength="61.68" lengthAdjust="spacingAndGlyphs" class="dv">AKT1</text>
<text x="97.52" y="1479.22" font-size="25.76" textLength="61.53" lengthAdjust="spacingAndGlyphs" class="dv">AKT2</text>
<text x="97.52" y="1523.24" font-size="25.76" textLength="61.86" lengthAdjust="spacingAndGlyphs" class="dv">AKT3</text>
<text x="63.00" y="1567.26" font-size="25.76" textLength="97.08" lengthAdjust="spacingAndGlyphs" class="dv">PRKACA</text>
<text x="62.96" y="1611.28" font-size="25.76" textLength="96.80" lengthAdjust="spacingAndGlyphs" class="dv">PRKACB</text>
<text x="46.30" y="1655.30" font-size="25.76" textLength="112.91" lengthAdjust="spacingAndGlyphs" class="dv">CSNK2A1</text>
<line x1="210.50" y1="1667.50" x2="210.50" y2="1676.00" stroke="#000" stroke-width="3" />
<g transform="translate(207.20,1700.8) rotate(-30)"><text x="-88.39" y="0.00" font-size="25.76" textLength="87.94" lengthAdjust="spacingAndGlyphs" class="dv">Control</text></g>
<line x1="278.30" y1="1667.50" x2="278.30" y2="1676.00" stroke="#000" stroke-width="3" />
<g transform="translate(275.00,1700.8) rotate(-30)"><text x="-107.29" y="0.00" font-size="25.76" textLength="106.91" lengthAdjust="spacingAndGlyphs" class="dv">MK-2206</text></g>
<line x1="346.10" y1="1667.50" x2="346.10" y2="1676.00" stroke="#000" stroke-width="3" />
<g transform="translate(342.80,1700.8) rotate(-30)"><text x="-131.42" y="0.00" font-size="25.76" textLength="131.27" lengthAdjust="spacingAndGlyphs" class="dv">Ipatasertib</text></g>
<line x1="413.90" y1="1667.50" x2="413.90" y2="1676.00" stroke="#000" stroke-width="3" />
<g transform="translate(410.60,1700.8) rotate(-30)"><text x="-158.37" y="0.00" font-size="25.76" textLength="157.58" lengthAdjust="spacingAndGlyphs" class="dv">GSK2110183</text></g>
<line x1="481.70" y1="1667.50" x2="481.70" y2="1676.00" stroke="#000" stroke-width="3" />
<g transform="translate(478.40,1700.8) rotate(-30)"><text x="-142.90" y="0.00" font-size="25.76" textLength="142.10" lengthAdjust="spacingAndGlyphs" class="dv">GSK690693</text></g>
<line x1="549.50" y1="1667.50" x2="549.50" y2="1676.00" stroke="#000" stroke-width="3" />
<g transform="translate(546.20,1700.8) rotate(-30)"><text x="-113.69" y="0.00" font-size="25.76" textLength="112.91" lengthAdjust="spacingAndGlyphs" class="dv">AZD5363</text></g>
<text x="600.80" y="1331.10" font-size="53.30" textLength="29.94" lengthAdjust="spacingAndGlyphs" fill="#231f20" font-weight="bold">e</text>
<text x="652.02" y="1331.80" font-size="39.00" textLength="100.01" lengthAdjust="spacingAndGlyphs" fill="#231f20">BRAF</text>
<text x="754.00" y="1318.80" font-size="21.66" textLength="65.53" lengthAdjust="spacingAndGlyphs" fill="#231f20">V600E</text>
<text x="826.75" y="1331.70" font-size="39.10" textLength="427.61" lengthAdjust="spacingAndGlyphs" fill="#231f20">inhibition (Kubiniok 2017)</text>
<path d="M793.00,1388.01 L803.30,1406.41 L782.70,1406.41 Z" fill="#d35f27"/>
<path d="M827.93,1381.28 L838.23,1399.68 L817.63,1399.68 Z" fill="#d35f27"/>
<path d="M862.87,1383.20 L873.17,1401.60 L852.57,1401.60 Z" fill="#d35f27"/>
<path d="M897.81,1388.97 L908.11,1407.37 L887.51,1407.37 Z" fill="#d35f27"/>
<path d="M932.74,1373.34 L943.04,1391.74 L922.44,1391.74 Z" fill="#d35f27"/>
<path d="M967.67,1372.38 L977.97,1390.78 L957.38,1390.78 Z" fill="#d35f27"/>
<path d="M1002.61,1371.90 L1012.91,1390.30 L992.31,1390.30 Z" fill="#d35f27"/>
<path d="M1037.55,1371.90 L1047.85,1390.30 L1027.25,1390.30 Z" fill="#d35f27"/>
<path d="M1072.48,1371.41 L1082.78,1389.82 L1062.18,1389.82 Z" fill="#d35f27"/>
<path d="M1107.41,1371.41 L1117.71,1389.82 L1097.12,1389.82 Z" fill="#d35f27"/>
<path d="M1142.35,1370.93 L1152.65,1389.33 L1132.05,1389.33 Z" fill="#d35f27"/>
<path d="M1177.29,1370.93 L1187.59,1389.33 L1166.99,1389.33 Z" fill="#d35f27"/>
<path d="M1212.22,1370.45 L1222.52,1388.85 L1201.92,1388.85 Z" fill="#d35f27"/>
<line x1="793.00" y1="1392.88" x2="1212.22" y2="1376.77" stroke="#d35f27" stroke-width="5.5"/>
<circle cx="793.00" cy="1387.11" r="10.20" fill="#d35f27"/>
<circle cx="827.93" cy="1381.82" r="10.20" fill="#d35f27"/>
<circle cx="862.87" cy="1388.31" r="10.20" fill="#d35f27"/>
<circle cx="897.81" cy="1382.78" r="10.20" fill="#d35f27"/>
<circle cx="932.74" cy="1380.86" r="10.20" fill="#d35f27"/>
<circle cx="967.67" cy="1380.37" r="10.20" fill="#d35f27"/>
<circle cx="1002.61" cy="1381.10" r="10.20" fill="#d35f27"/>
<circle cx="1037.55" cy="1381.10" r="10.20" fill="#d35f27"/>
<circle cx="1072.48" cy="1380.62" r="10.20" fill="#d35f27"/>
<circle cx="1107.41" cy="1380.13" r="10.20" fill="#d35f27"/>
<circle cx="1142.35" cy="1380.13" r="10.20" fill="#d35f27"/>
<circle cx="1177.29" cy="1380.13" r="10.20" fill="#d35f27"/>
<circle cx="1212.22" cy="1379.41" r="10.20" fill="#d35f27"/>
<line x1="793.00" y1="1384.22" x2="1212.22" y2="1381.10" stroke="#d35f27" stroke-width="5.5" stroke-dasharray="5.5 9.7"/>
<path d="M793.00,1405.81 L803.30,1424.21 L782.70,1424.21 Z" fill="#1072b2"/>
<path d="M827.93,1396.43 L838.23,1414.83 L817.63,1414.83 Z" fill="#1072b2"/>
<path d="M862.87,1526.78 L873.17,1545.18 L852.57,1545.18 Z" fill="#1072b2"/>
<path d="M897.81,1460.88 L908.11,1479.28 L887.51,1479.28 Z" fill="#1072b2"/>
<path d="M932.74,1519.80 L943.04,1538.20 L922.44,1538.20 Z" fill="#1072b2"/>
<path d="M967.67,1489.02 L977.97,1507.42 L957.38,1507.42 Z" fill="#1072b2"/>
<path d="M1002.61,1611.19 L1012.91,1629.59 L992.31,1629.59 Z" fill="#1072b2"/>
<path d="M1037.55,1500.80 L1047.85,1519.20 L1027.25,1519.20 Z" fill="#1072b2"/>
<path d="M1072.48,1700.90 L1082.78,1719.30 L1062.18,1719.30 Z" fill="#1072b2"/>
<path d="M1107.41,1576.80 L1117.71,1595.20 L1097.12,1595.20 Z" fill="#1072b2"/>
<path d="M1142.35,1552.99 L1152.65,1571.39 L1132.05,1571.39 Z" fill="#1072b2"/>
<path d="M1177.29,1550.59 L1187.59,1568.99 L1166.99,1568.99 Z" fill="#1072b2"/>
<path d="M1212.22,1711.96 L1222.52,1730.36 L1201.92,1730.36 Z" fill="#1072b2"/>
<line x1="793.00" y1="1434.01" x2="1212.22" y2="1662.96" stroke="#1072b2" stroke-width="5.5"/>
<circle cx="793.00" cy="1476.09" r="10.20" fill="#1072b2"/>
<circle cx="827.93" cy="1418.61" r="10.20" fill="#1072b2"/>
<circle cx="862.87" cy="1488.84" r="10.20" fill="#1072b2"/>
<circle cx="897.81" cy="1427.27" r="10.20" fill="#1072b2"/>
<circle cx="932.74" cy="1425.11" r="10.20" fill="#1072b2"/>
<circle cx="967.67" cy="1529.97" r="10.20" fill="#1072b2"/>
<circle cx="1002.61" cy="1526.36" r="10.20" fill="#1072b2"/>
<circle cx="1037.55" cy="1639.39" r="10.20" fill="#1072b2"/>
<circle cx="1072.48" cy="1657.91" r="10.20" fill="#1072b2"/>
<circle cx="1107.41" cy="1726.21" r="10.20" fill="#1072b2"/>
<circle cx="1142.35" cy="1547.76" r="10.20" fill="#1072b2"/>
<circle cx="1177.29" cy="1556.66" r="10.20" fill="#1072b2"/>
<circle cx="1212.22" cy="1761.33" r="10.20" fill="#1072b2"/>
<line x1="793.00" y1="1417.17" x2="1212.22" y2="1689.18" stroke="#1072b2" stroke-width="5.5" stroke-dasharray="5.5 9.7"/>
<line x1="762.60" y1="1806.30" x2="772.40" y2="1806.30" stroke="#000" stroke-width="3" />
<text x="722.01" y="1816.20" font-size="28.81" textLength="30.81" lengthAdjust="spacingAndGlyphs">16</text>
<line x1="762.60" y1="1758.20" x2="772.40" y2="1758.20" stroke="#000" stroke-width="3" />
<text x="721.99" y="1768.10" font-size="28.81" textLength="30.81" lengthAdjust="spacingAndGlyphs">18</text>
<line x1="762.60" y1="1710.10" x2="772.40" y2="1710.10" stroke="#000" stroke-width="3" />
<text x="721.87" y="1720.00" font-size="28.81" textLength="30.81" lengthAdjust="spacingAndGlyphs">20</text>
<line x1="762.60" y1="1662.00" x2="772.40" y2="1662.00" stroke="#000" stroke-width="3" />
<text x="722.18" y="1671.90" font-size="28.81" textLength="30.81" lengthAdjust="spacingAndGlyphs">22</text>
<line x1="762.60" y1="1613.90" x2="772.40" y2="1613.90" stroke="#000" stroke-width="3" />
<text x="721.60" y="1623.80" font-size="28.81" textLength="30.81" lengthAdjust="spacingAndGlyphs">24</text>
<line x1="762.60" y1="1565.80" x2="772.40" y2="1565.80" stroke="#000" stroke-width="3" />
<text x="722.01" y="1575.70" font-size="28.81" textLength="30.81" lengthAdjust="spacingAndGlyphs">26</text>
<line x1="762.60" y1="1517.70" x2="772.40" y2="1517.70" stroke="#000" stroke-width="3" />
<text x="721.99" y="1527.60" font-size="28.81" textLength="30.81" lengthAdjust="spacingAndGlyphs">28</text>
<line x1="762.60" y1="1469.60" x2="772.40" y2="1469.60" stroke="#000" stroke-width="3" />
<text x="721.87" y="1479.50" font-size="28.81" textLength="30.81" lengthAdjust="spacingAndGlyphs">30</text>
<line x1="762.60" y1="1421.50" x2="772.40" y2="1421.50" stroke="#000" stroke-width="3" />
<text x="722.18" y="1431.40" font-size="28.81" textLength="30.81" lengthAdjust="spacingAndGlyphs">32</text>
<line x1="762.60" y1="1373.40" x2="772.40" y2="1373.40" stroke="#000" stroke-width="3" />
<text x="721.60" y="1383.30" font-size="28.81" textLength="30.81" lengthAdjust="spacingAndGlyphs">34</text>
<line x1="793.00" y1="1806.40" x2="793.00" y2="1815.40" stroke="#000" stroke-width="3" />
<text x="785.30" y="1845.70" font-size="28.81" textLength="15.41" lengthAdjust="spacingAndGlyphs">0</text>
<line x1="862.87" y1="1806.40" x2="862.87" y2="1815.40" stroke="#000" stroke-width="3" />
<text x="847.46" y="1845.70" font-size="28.81" textLength="30.81" lengthAdjust="spacingAndGlyphs">10</text>
<line x1="932.74" y1="1806.40" x2="932.74" y2="1815.40" stroke="#000" stroke-width="3" />
<text x="917.33" y="1845.70" font-size="28.81" textLength="30.81" lengthAdjust="spacingAndGlyphs">20</text>
<line x1="1002.61" y1="1806.40" x2="1002.61" y2="1815.40" stroke="#000" stroke-width="3" />
<text x="987.20" y="1845.70" font-size="28.81" textLength="30.81" lengthAdjust="spacingAndGlyphs">30</text>
<line x1="1072.48" y1="1806.40" x2="1072.48" y2="1815.40" stroke="#000" stroke-width="3" />
<text x="1057.07" y="1845.70" font-size="28.81" textLength="30.81" lengthAdjust="spacingAndGlyphs">40</text>
<line x1="1142.35" y1="1806.40" x2="1142.35" y2="1815.40" stroke="#000" stroke-width="3" />
<text x="1126.94" y="1845.70" font-size="28.81" textLength="30.81" lengthAdjust="spacingAndGlyphs">50</text>
<line x1="1212.22" y1="1806.40" x2="1212.22" y2="1815.40" stroke="#000" stroke-width="3" />
<text x="1196.81" y="1845.70" font-size="28.81" textLength="30.81" lengthAdjust="spacingAndGlyphs">60</text>
<g transform="translate(703.7,1715.1) rotate(-90)"><text x="-0.07" y="0.00" font-size="32.41" textLength="266.64" lengthAdjust="spacingAndGlyphs">Activity [-log10(p)]</text></g>
<text x="893.66" y="1885.70" font-size="33.58" textLength="220.80" lengthAdjust="spacingAndGlyphs">Time (minutes)</text>
<rect x="786.30" y="1627.70" width="309.50" height="165.20" stroke="#d3d3d3" stroke-width="3.7" fill="#fff" rx="5" fill-opacity="0.8"/>
<line x1="793.20" y1="1648.40" x2="856.10" y2="1648.40" stroke="#d35f27" stroke-width="5.5" />
<path d="M824.50,1636.60 L835.50,1658.20 L813.50,1658.20 Z" fill="#d35f27"/>
<line x1="796.90" y1="1688.20" x2="804.20" y2="1688.20" stroke="#d35f27" stroke-width="5.5" />
<line x1="838.00" y1="1688.20" x2="844.60" y2="1688.20" stroke="#d35f27" stroke-width="5.5" />
<circle cx="824.50" cy="1688.20" r="10.40" fill="#d35f27"/>
<line x1="793.20" y1="1727.40" x2="856.10" y2="1727.40" stroke="#1072b2" stroke-width="5.5" />
<path d="M824.50,1715.60 L835.50,1737.20 L813.50,1737.20 Z" fill="#1072b2"/>
<line x1="796.90" y1="1766.50" x2="804.20" y2="1766.50" stroke="#1072b2" stroke-width="5.5" />
<line x1="838.00" y1="1766.50" x2="844.60" y2="1766.50" stroke="#1072b2" stroke-width="5.5" />
<circle cx="824.50" cy="1766.50" r="10.40" fill="#1072b2"/>
<text x="871.59" y="1657.70" font-size="27.33" textLength="105.05" lengthAdjust="spacingAndGlyphs">HCT116</text>
<text x="991.45" y="1657.70" font-size="27.33" textLength="92.89" lengthAdjust="spacingAndGlyphs">MAPK1</text>
<text x="871.59" y="1697.30" font-size="27.33" textLength="105.05" lengthAdjust="spacingAndGlyphs">HCT116</text>
<text x="991.43" y="1697.30" font-size="27.33" textLength="93.99" lengthAdjust="spacingAndGlyphs">MAPK3</text>
<text x="873.70" y="1736.40" font-size="27.33" textLength="102.86" lengthAdjust="spacingAndGlyphs">Colo205</text>
<text x="991.45" y="1736.40" font-size="27.33" textLength="92.89" lengthAdjust="spacingAndGlyphs">MAPK1</text>
<text x="873.70" y="1775.50" font-size="27.33" textLength="102.86" lengthAdjust="spacingAndGlyphs">Colo205</text>
<text x="991.43" y="1775.50" font-size="27.33" textLength="93.99" lengthAdjust="spacingAndGlyphs">MAPK3</text>
<rect x="772.40" y="1357.00" width="461.00" height="449.40" stroke="#000" stroke-width="3" fill="none" rx="0" />
</svg>
</body></html>
